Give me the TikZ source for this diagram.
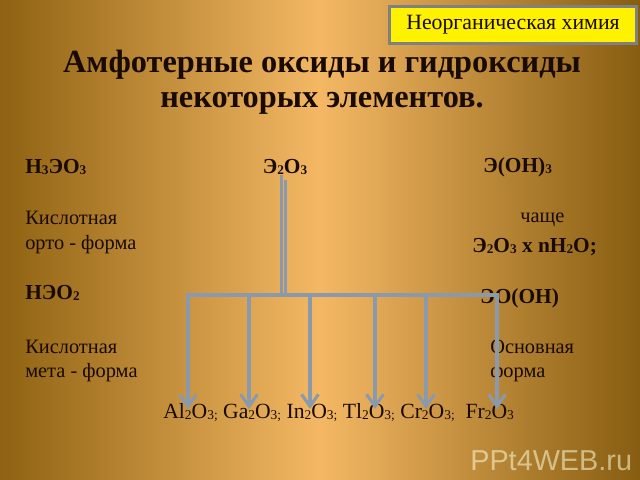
\documentclass[tikz,border=0pt]{standalone}
\usepackage{fontspec}
\usepackage{graphicx}
\setmainfont{Liberation Serif}
\newfontfamily\wmfont{Liberation Sans}
\usetikzlibrary{arrows.meta}
\definecolor{gold}{RGB}{142,98,18}
\definecolor{sand}{RGB}{244,184,100}
\definecolor{pipecol}{RGB}{138,154,172}
\definecolor{ink}{RGB}{25,10,3}
\newcommand\ix[1]{\raisebox{-.2ex}{\scalebox{.62}{#1}}}
\begin{document}
\begin{tikzpicture}[x=0.025cm,y=-0.025cm,
  txt/.style={anchor=base west,inner sep=0pt,text=ink,font=\fontsize{14.5}{17}\selectfont},
  frm/.style={txt,font=\fontsize{15.2}{17}\selectfont\bfseries},
  pipe/.style={draw=pipecol,line width=2.4pt},
  dn/.style={pipe,-{Straight Barb[length=8.5pt,width=12pt,line width=2.2pt]}}]
  \useasboundingbox (0,0) rectangle (640,480);
  \shade[left color=gold,right color=gold!95!black,middle color=sand] (0,0) rectangle (640,480);
  \node[draw=gray,line width=2.2pt,fill=yellow,minimum width=6.17cm,minimum height=.93cm] (tag) at (513,25) {};
  \node[inner sep=0pt,text=ink,font=\fontsize{15.5}{18}\selectfont] (tagtext) at (tag) {Неорганическая химия};
  \node[anchor=base,inner sep=0pt,text=ink,font=\fontsize{23}{25}\selectfont\bfseries] (title) at (322,72) {Амфотерные оксиды и гидроксиды};
  \node[anchor=base,inner sep=0pt,text=ink,font=\fontsize{23}{25}\selectfont\bfseries] (subtitle) at (322,107) {некоторых элементов.};
  % left column
  \node[frm] (h3eo3) at (25,173) {H\ix{3}ЭO\ix{3}};
  \node[txt] (acid1) at (25,224) {Кислотная};
  \node[txt] (ortho) at (25,249) {орто - форма};
  \node[frm] (heo2) at (25,299) {HЭO\ix{2}};
  \node[txt] (acid2) at (25,353) {Кислотная};
  \node[txt] (meta) at (25,377) {мета - форма};
  % right column
  \node[frm] (eoh3) at (483,172) {Э(OH)\ix{3}};
  \node[txt] (often) at (520,222) {чаще};
  \node[frm] (hydr) at (472,252) {Э\ix{2}O\ix{3} x nH\ix{2}O;};
  \node[frm] (eooh) at (480,303) {ЭO(OH)};
  \node[txt] (basic) at (490,353) {Основная};
  \node[txt] (bform) at (490,377) {форма};
  \node[frm,anchor=base] (e2o3) at (285,173) {Э\ix{2}O\ix{3}};
  \node[txt,font=\fontsize{15.4}{17}\selectfont] (oxides) at (163,418) {Al\ix{2}O\ix{3;} Ga\ix{2}O\ix{3;} In\ix{2}O\ix{3;} Tl\ix{2}O\ix{3;} Cr\ix{2}O\ix{3;}\ \ Fr\ix{2}O\ix{3}};
  \node[anchor=base west,inner sep=0pt,text=yellow!15!white,opacity=.55,font=\wmfont\fontsize{20.5}{22}\selectfont] (wm) at (470,470) {PPt4WEB.ru};
  % connectors
  \coordinate (hub) at (283,295);
  \foreach \x [count=\i] in {188,249,310,375,426,497} {
    \coordinate (b\i) at (\x,295);
    \coordinate (t\i) at (\x,409);
  }
  \draw[pipe] ([xshift=-.09cm]e2o3.south) -- ([xshift=-.09cm]e2o3.south |- hub);
  \draw[pipe] ([shift={(.02cm,-.12cm)}]e2o3.south) -- ([xshift=.02cm]e2o3.south |- hub);
  \draw[pipe,line cap=rect] (b1) -- (b6);
  \foreach \i in {1,...,6} \draw[dn] (b\i) -- (t\i);
\end{tikzpicture}
\end{document}
